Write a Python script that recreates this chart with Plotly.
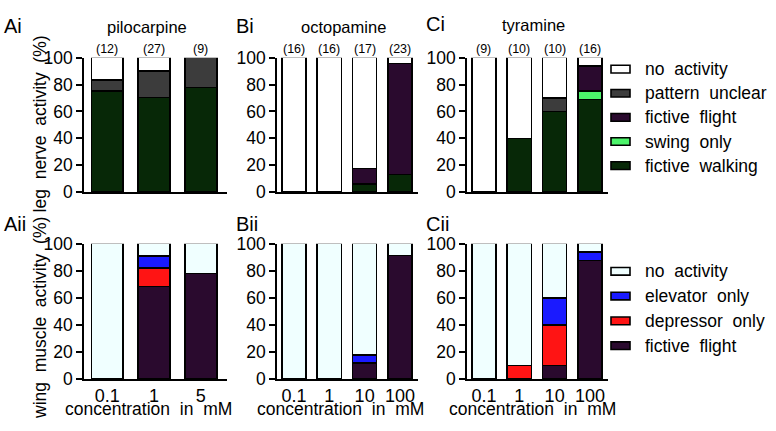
import plotly.graph_objects as go

W, H = 776, 431

# ---------------- data ----------------
conc_A = ["0.1", "1", "5"]
conc_BC = ["0.1", "1", "10", "100"]

n_A = ["(12)", "(27)", "(9)"]
n_B = ["(16)", "(16)", "(17)", "(23)"]
n_C = ["(9)", "(10)", "(10)", "(16)"]

# leg nerve activity (%), stacked bottom -> top
leg_walking_A = [75.0, 70.4, 77.8]
leg_swing_A = [0, 0, 0]
leg_flight_A = [0, 0, 0]
leg_unclear_A = [8.3, 19.6, 22.2]
leg_none_A = [16.7, 10.0, 0]

leg_walking_B = [0, 0, 5.9, 13.0]
leg_swing_B = [0, 0, 0, 0]
leg_flight_B = [0, 0, 11.8, 82.6]
leg_unclear_B = [0, 0, 0, 0]
leg_none_B = [100, 100, 82.3, 4.4]

leg_walking_C = [0, 40, 60, 68.75]
leg_swing_C = [0, 0, 0, 6.25]
leg_flight_C = [0, 0, 0, 18.75]
leg_unclear_C = [0, 0, 10, 0]
leg_none_C = [100, 60, 30, 6.25]

# wing muscle activity (%), stacked bottom -> top
wing_flight_A = [0, 68.2, 77.8]
wing_depr_A = [0, 13.6, 0]
wing_elev_A = [0, 9.1, 0]
wing_none_A = [100, 9.1, 22.2]

wing_flight_B = [0, 0, 11.8, 91.3]
wing_depr_B = [0, 0, 0, 0]
wing_elev_B = [0, 0, 5.9, 0]
wing_none_B = [100, 100, 82.3, 8.7]

wing_flight_C = [0, 0, 10, 87.5]
wing_depr_C = [0, 10, 30, 0]
wing_elev_C = [0, 0, 20, 6.25]
wing_none_C = [100, 90, 40, 6.25]

leg_names = ["fictive walking", "swing only", "fictive flight", "pattern unclear", "no activity"]
leg_colors = ["#072807", "#4cf46a", "#2a0a2e", "#3c3c3c", "#ffffff"]
wing_names = ["fictive flight", "depressor only", "elevator only", "no activity"]
wing_colors = ["#2a0a2e", "#ff1414", "#1a1aff", "#f0ffff"]

FONT = "Liberation Sans, Arial, sans-serif"
SP = "\u00a0 "

fig = go.Figure()

def nz(v):
    return [x if x else None for x in v]

panels_top = [
    (conc_A, [leg_walking_A, leg_swing_A, leg_flight_A, leg_unclear_A, leg_none_A], "x", "y", n_A),
    (conc_BC, [leg_walking_B, leg_swing_B, leg_flight_B, leg_unclear_B, leg_none_B], "x2", "y2", n_B),
    (conc_BC, [leg_walking_C, leg_swing_C, leg_flight_C, leg_unclear_C, leg_none_C], "x3", "y3", n_C),
]
panels_bot = [
    (conc_A, [wing_flight_A, wing_depr_A, wing_elev_A, wing_none_A], "x4", "y4"),
    (conc_BC, [wing_flight_B, wing_depr_B, wing_elev_B, wing_none_B], "x5", "y5"),
    (conc_BC, [wing_flight_C, wing_depr_C, wing_elev_C, wing_none_C], "x6", "y6"),
]

annotations = []
for cats, series, xa, ya, ns in panels_top:
    for name, col, vals in zip(leg_names, leg_colors, series):
        fig.add_trace(go.Bar(x=cats, y=nz(vals), name=name, marker_color=col,
                             marker_line=dict(color="black", width=1.6), width=0.68,
                             xaxis=xa, yaxis=ya, showlegend=False))
    for i, n in enumerate(ns):
        annotations.append(dict(x=i, y=100, xref=xa, yref=ya, text=n, showarrow=False,
                                yanchor="bottom", yshift=0, font=dict(size=12.5, family=FONT, color="black")))

for cats, series, xa, ya in panels_bot:
    for name, col, vals in zip(wing_names, wing_colors, series):
        fig.add_trace(go.Bar(x=cats, y=nz(vals), name=name, marker_color=col,
                             marker_line=dict(color="black", width=1.6), width=0.68,
                             xaxis=xa, yaxis=ya, showlegend=False))

def px_x(p):
    return p / W

def px_y(p):
    return 1 - p / H

xdom = [(84, 227), (277, 418), (467, 608)]
xrng = [[-0.5, 2.56], [-0.48, 3.51], [-0.48, 3.51]]
ydom_top = [px_y(191), px_y(50)]
ydom_bot = [px_y(387), px_y(245)]

layout = dict(
    width=W, height=H, margin=dict(l=0, r=0, t=0, b=0), autosize=False,
    paper_bgcolor="white", plot_bgcolor="white", barmode="stack", bargap=0.3,
    font=dict(family=FONT, color="black", size=17.5),
)

axis_common = dict(showline=True, linecolor="black", linewidth=1.6, showgrid=False, zeroline=False)
for i in range(6):
    xi = "xaxis" if i == 0 else f"xaxis{i+1}"
    yi = "yaxis" if i == 0 else f"yaxis{i+1}"
    col = i % 3
    top = i < 3
    yref = "y" if i == 0 else f"y{i+1}"
    xref = "x" if i == 0 else f"x{i+1}"
    layout[xi] = dict(axis_common, type="category", domain=[px_x(xdom[col][0]), px_x(xdom[col][1])],
                      range=xrng[col], anchor=yref, ticks="", showticklabels=not top,
                      tickfont=dict(size=18, family=FONT, color="black"), fixedrange=True)
    layout[yi] = dict(axis_common, domain=ydom_top if top else ydom_bot, range=[0, 100], anchor=xref,
                      tickvals=[0, 20, 40, 60, 80, 100], ticks="outside", ticklen=6, tickwidth=1.6,
                      tickcolor="black", tickfont=dict(size=17.5, family=FONT, color="black"))

fig.update_layout(**layout)

def ann(text, x, y, size, xanchor="center", yanchor="middle", angle=0):
    annotations.append(dict(text=text, x=px_x(x), y=px_y(y), xref="paper", yref="paper",
                            showarrow=False, xanchor=xanchor, yanchor=yanchor, textangle=angle,
                            font=dict(size=size, family=FONT, color="black")))

# panel labels
for lab, x, y in [("Ai", 2, 17), ("Bi", 234, 17), ("Ci", 424, 15),
                  ("Aii", 2, 224), ("Bii", 234, 224), ("Cii", 424, 224)]:
    ann(lab, x, y, 20, xanchor="left")

# titles
ann("pilocarpine", 147, 18, 16.5)
ann("octopamine", 343, 18, 16.5)
ann("tyramine", 533, 16, 16.5)

# y titles
ann("leg" + SP + "nerve" + SP + "activity" + SP + "(%)", 40, 120, 17.5, angle=-90)
ann("wing" + SP + "muscle" + SP + "activity" + SP + "(%)", 40, 323, 17.5, angle=-90)

# x titles
for cx in (148, 340, 532):
    ann("concentration" + SP + "in" + SP + "mM", cx, 431, 17.5, yanchor="bottom")

shapes = []
def legend(names, colors, y0, step):
    for k, (nm, cl) in enumerate(zip(names, colors)):
        yy = y0 + k * step
        shapes.append(dict(type="rect", xref="paper", yref="paper",
                           x0=px_x(611), x1=px_x(630), y0=px_y(yy + 4), y1=px_y(yy - 4),
                           fillcolor=cl, line=dict(color="black", width=1.6)))
        ann(nm.replace(" ", SP), 643, yy, 17.5, xanchor="left")

legend(leg_names[::-1], leg_colors[::-1], 62, 25.3)
legend(wing_names[::-1], wing_colors[::-1], 274, 26)

fig.update_layout(annotations=annotations, shapes=shapes)
fig.write_html("out.html", config={"displayModeBar": False},
               post_script="document.body.style.margin='0';document.body.style.padding='0';"
                           "document.documentElement.style.overflow='hidden';")
